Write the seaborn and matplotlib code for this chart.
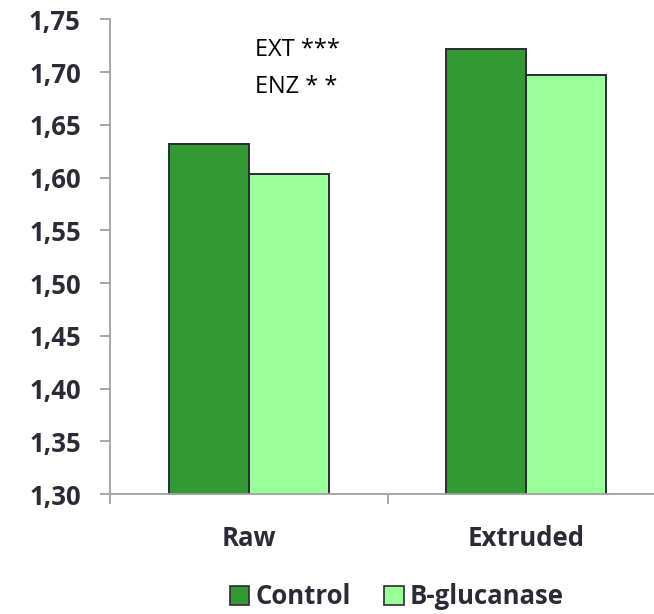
import matplotlib
matplotlib.use("Agg")
import matplotlib.pyplot as plt
import matplotlib.patches as mpatches
from matplotlib.ticker import FixedLocator, FuncFormatter
import seaborn as sns
import pandas as pd

# Data
processing = ["Raw", "Extruded"]
treatments = ["Control", "B-glucanase"]
control_values = [1.632, 1.722]
bglucanase_values = [1.603, 1.697]
y_ticks = [1.30, 1.35, 1.40, 1.45, 1.50, 1.55, 1.60, 1.65, 1.70, 1.75]
significance_lines = ["EXT ***", "ENZ * *"]

df = pd.DataFrame({
    "Processing": processing * 2,
    "Treatment": [treatments[0]] * 2 + [treatments[1]] * 2,
    "Value": control_values + bglucanase_values,
})

sns.set_theme(style="white")
plt.rcParams["font.family"] = ["Open Sans", "DejaVu Sans"]

text_color = "#2b2b38"
axis_color = "#a0a0a0"
palette = {"Control": "#339933", "B-glucanase": "#99ff99"}
label_size = 18.5

fig = plt.figure(figsize=(6.54, 6.14), dpi=100)
ax = fig.add_axes([110 / 654, 1 - 494 / 614, 555 / 654, (494 - 19.3) / 614])

sns.barplot(data=df, x="Processing", y="Value", hue="Treatment",
            order=processing, hue_order=treatments, palette=palette,
            width=0.575, edgecolor="#2b2b38", linewidth=1.4,
            saturation=1, legend=False, ax=ax)

ax.set_ylim(1.30, 1.75)
ax.set_xlim(-0.5, 1.5)
ax.yaxis.set_major_locator(FixedLocator(y_ticks))
ax.yaxis.set_major_formatter(FuncFormatter(lambda v, p: f"{v:.2f}".replace(".", ",")))

# Category labels centred, with boundary ticks between groups
ax.set_xticks([0, 1])
ax.set_xticklabels(processing)
ax.set_xticks([-0.5, 0.5, 1.5], minor=True)
ax.tick_params(axis="x", which="major", length=0, pad=22,
               labelsize=label_size, labelcolor=text_color)
ax.tick_params(axis="x", which="minor", length=7, width=1.3,
               color=axis_color, direction="out", bottom=True)
ax.tick_params(axis="y", which="major", length=7, width=1.3,
               color=axis_color, direction="out", left=True, pad=14,
               labelsize=label_size, labelcolor=text_color)
for lbl in ax.get_xticklabels() + ax.get_yticklabels():
    lbl.set_fontweight("bold")

ax.set_xlabel("")
ax.set_ylabel("")
for side in ["top", "right"]:
    ax.spines[side].set_visible(False)
for side in ["left", "bottom"]:
    ax.spines[side].set_color(axis_color)
    ax.spines[side].set_linewidth(1.3)

# Significance annotation
ax.text(255 / 654, 1 - 50 / 614, significance_lines[0], transform=fig.transFigure,
        fontsize=17, color="black", va="center", ha="left")
ax.text(255 / 654, 1 - 87 / 614, significance_lines[1], transform=fig.transFigure,
        fontsize=17, color="black", va="center", ha="left")

handles = [mpatches.Patch(facecolor=palette[t], edgecolor="#2b2b38", linewidth=1.2, label=t)
           for t in treatments]
leg = fig.legend(handles=handles, loc="center", bbox_to_anchor=(397 / 654, 1 - 597 / 614),
                 ncol=2, frameon=False, handlelength=0.75, handleheight=0.75,
                 handletextpad=0.25, columnspacing=1.3,
                 prop={"weight": "bold", "size": label_size})
for t in leg.get_texts():
    t.set_color(text_color)

fig.savefig("out.png", dpi=100)
